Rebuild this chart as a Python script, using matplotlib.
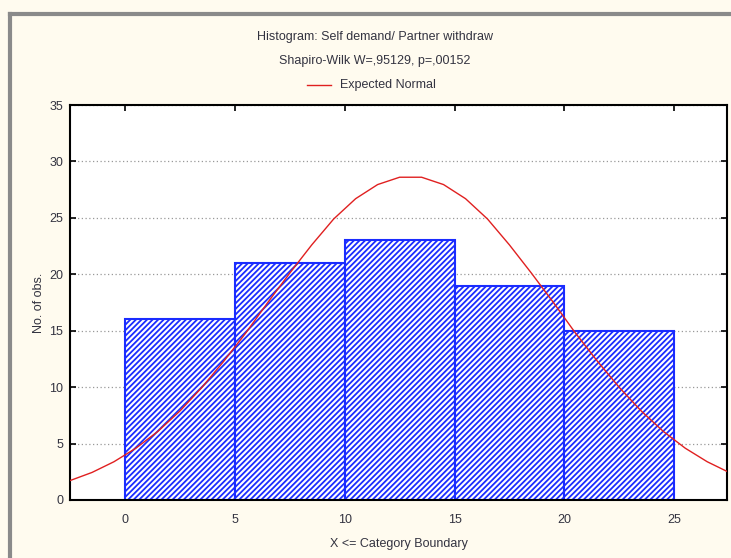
import matplotlib.pyplot as plt
from matplotlib.lines import Line2D

plt.rcParams['font.family'] = ['Liberation Sans', 'DejaVu Sans']
plt.rcParams['hatch.linewidth'] = 1.3

# histogram bins (upper boundaries) and counts
bin_left = [0, 5, 10, 15, 20]
bin_width = 5
counts = [16, 21, 23, 19, 15]

# expected normal curve
curve_x = [-2.5, -1.5, -0.5, 0.5, 1.5, 2.5, 3.5, 4.5, 5.5, 6.5, 7.5, 8.5, 9.5,
           10.5, 11.5, 12.5, 13.5, 14.5, 15.5, 16.5, 17.5, 18.5, 19.5, 20.5,
           21.5, 22.5, 23.5, 24.5, 25.5, 26.5, 27.5]
curve_y = [1.72, 2.44, 3.39, 4.59, 6.08, 7.88, 9.97, 12.3, 14.8, 17.5, 20.1,
           22.6, 24.9, 26.7, 27.95, 28.6, 28.6, 27.95, 26.7, 24.9, 22.6, 20.1,
           17.5, 14.8, 12.3, 9.97, 7.88, 6.08, 4.59, 3.39, 2.44]

bg = '#fffbef'
txt = '#333340'

fig = plt.figure(figsize=(7.31, 5.58), dpi=100, facecolor=bg)
ax = fig.add_axes([70 / 731, 58 / 558, 657 / 731, 395 / 558])
ax.set_facecolor('white')

ax.bar(bin_left, counts, width=bin_width, align='edge', color='white',
       edgecolor='#1a2cff', hatch='//////', linewidth=1.5, zorder=2)
ax.plot(curve_x, curve_y, color='#e02020', linewidth=1.0, zorder=3)

ax.set_xlim(-2.5, 27.4)
ax.set_ylim(0, 35)
ax.set_xticks([0, 5, 10, 15, 20, 25])
ax.set_yticks(range(0, 36, 5))
ax.yaxis.grid(True, linestyle=(0, (1, 2)), color='#999999', linewidth=0.9, zorder=0)
ax.set_axisbelow(True)
ax.tick_params(direction='in', top=True, right=True, length=4, width=1.2,
               labelsize=9, labelcolor=txt)
ax.tick_params(axis='y', pad=5)
ax.tick_params(axis='x', pad=10)
for s in ax.spines.values():
    s.set_linewidth(1.5)
    s.set_color('black')

ax.set_xlabel('X <= Category Boundary', fontsize=9, color=txt, labelpad=9)
ax.set_ylabel('No. of obs.', fontsize=9, color=txt, labelpad=3)

fig.text(375 / 731, 1 - 37 / 558, 'Histogram: Self demand/ Partner withdraw',
         ha='center', va='center', fontsize=9, color=txt)
fig.text(375 / 731, 1 - 61 / 558, 'Shapiro-Wilk W=,95129, p=,00152',
         ha='center', va='center', fontsize=9, color=txt)
fig.add_artist(Line2D([307 / 731, 331 / 731], [1 - 85 / 558, 1 - 85 / 558],
                      color='#e02020', linewidth=1.0))
fig.text(340 / 731, 1 - 85 / 558, 'Expected Normal', ha='left', va='center',
         fontsize=9, color=txt)

# window border
fig.add_artist(Line2D([10 / 731, 10 / 731], [0, 1 - 14 / 558], color='#8a8a8a', linewidth=3))
fig.add_artist(Line2D([10 / 731, 1], [1 - 14 / 558, 1 - 14 / 558], color='#8a8a8a', linewidth=3))

fig.savefig('out.png', dpi=100, facecolor=bg)
